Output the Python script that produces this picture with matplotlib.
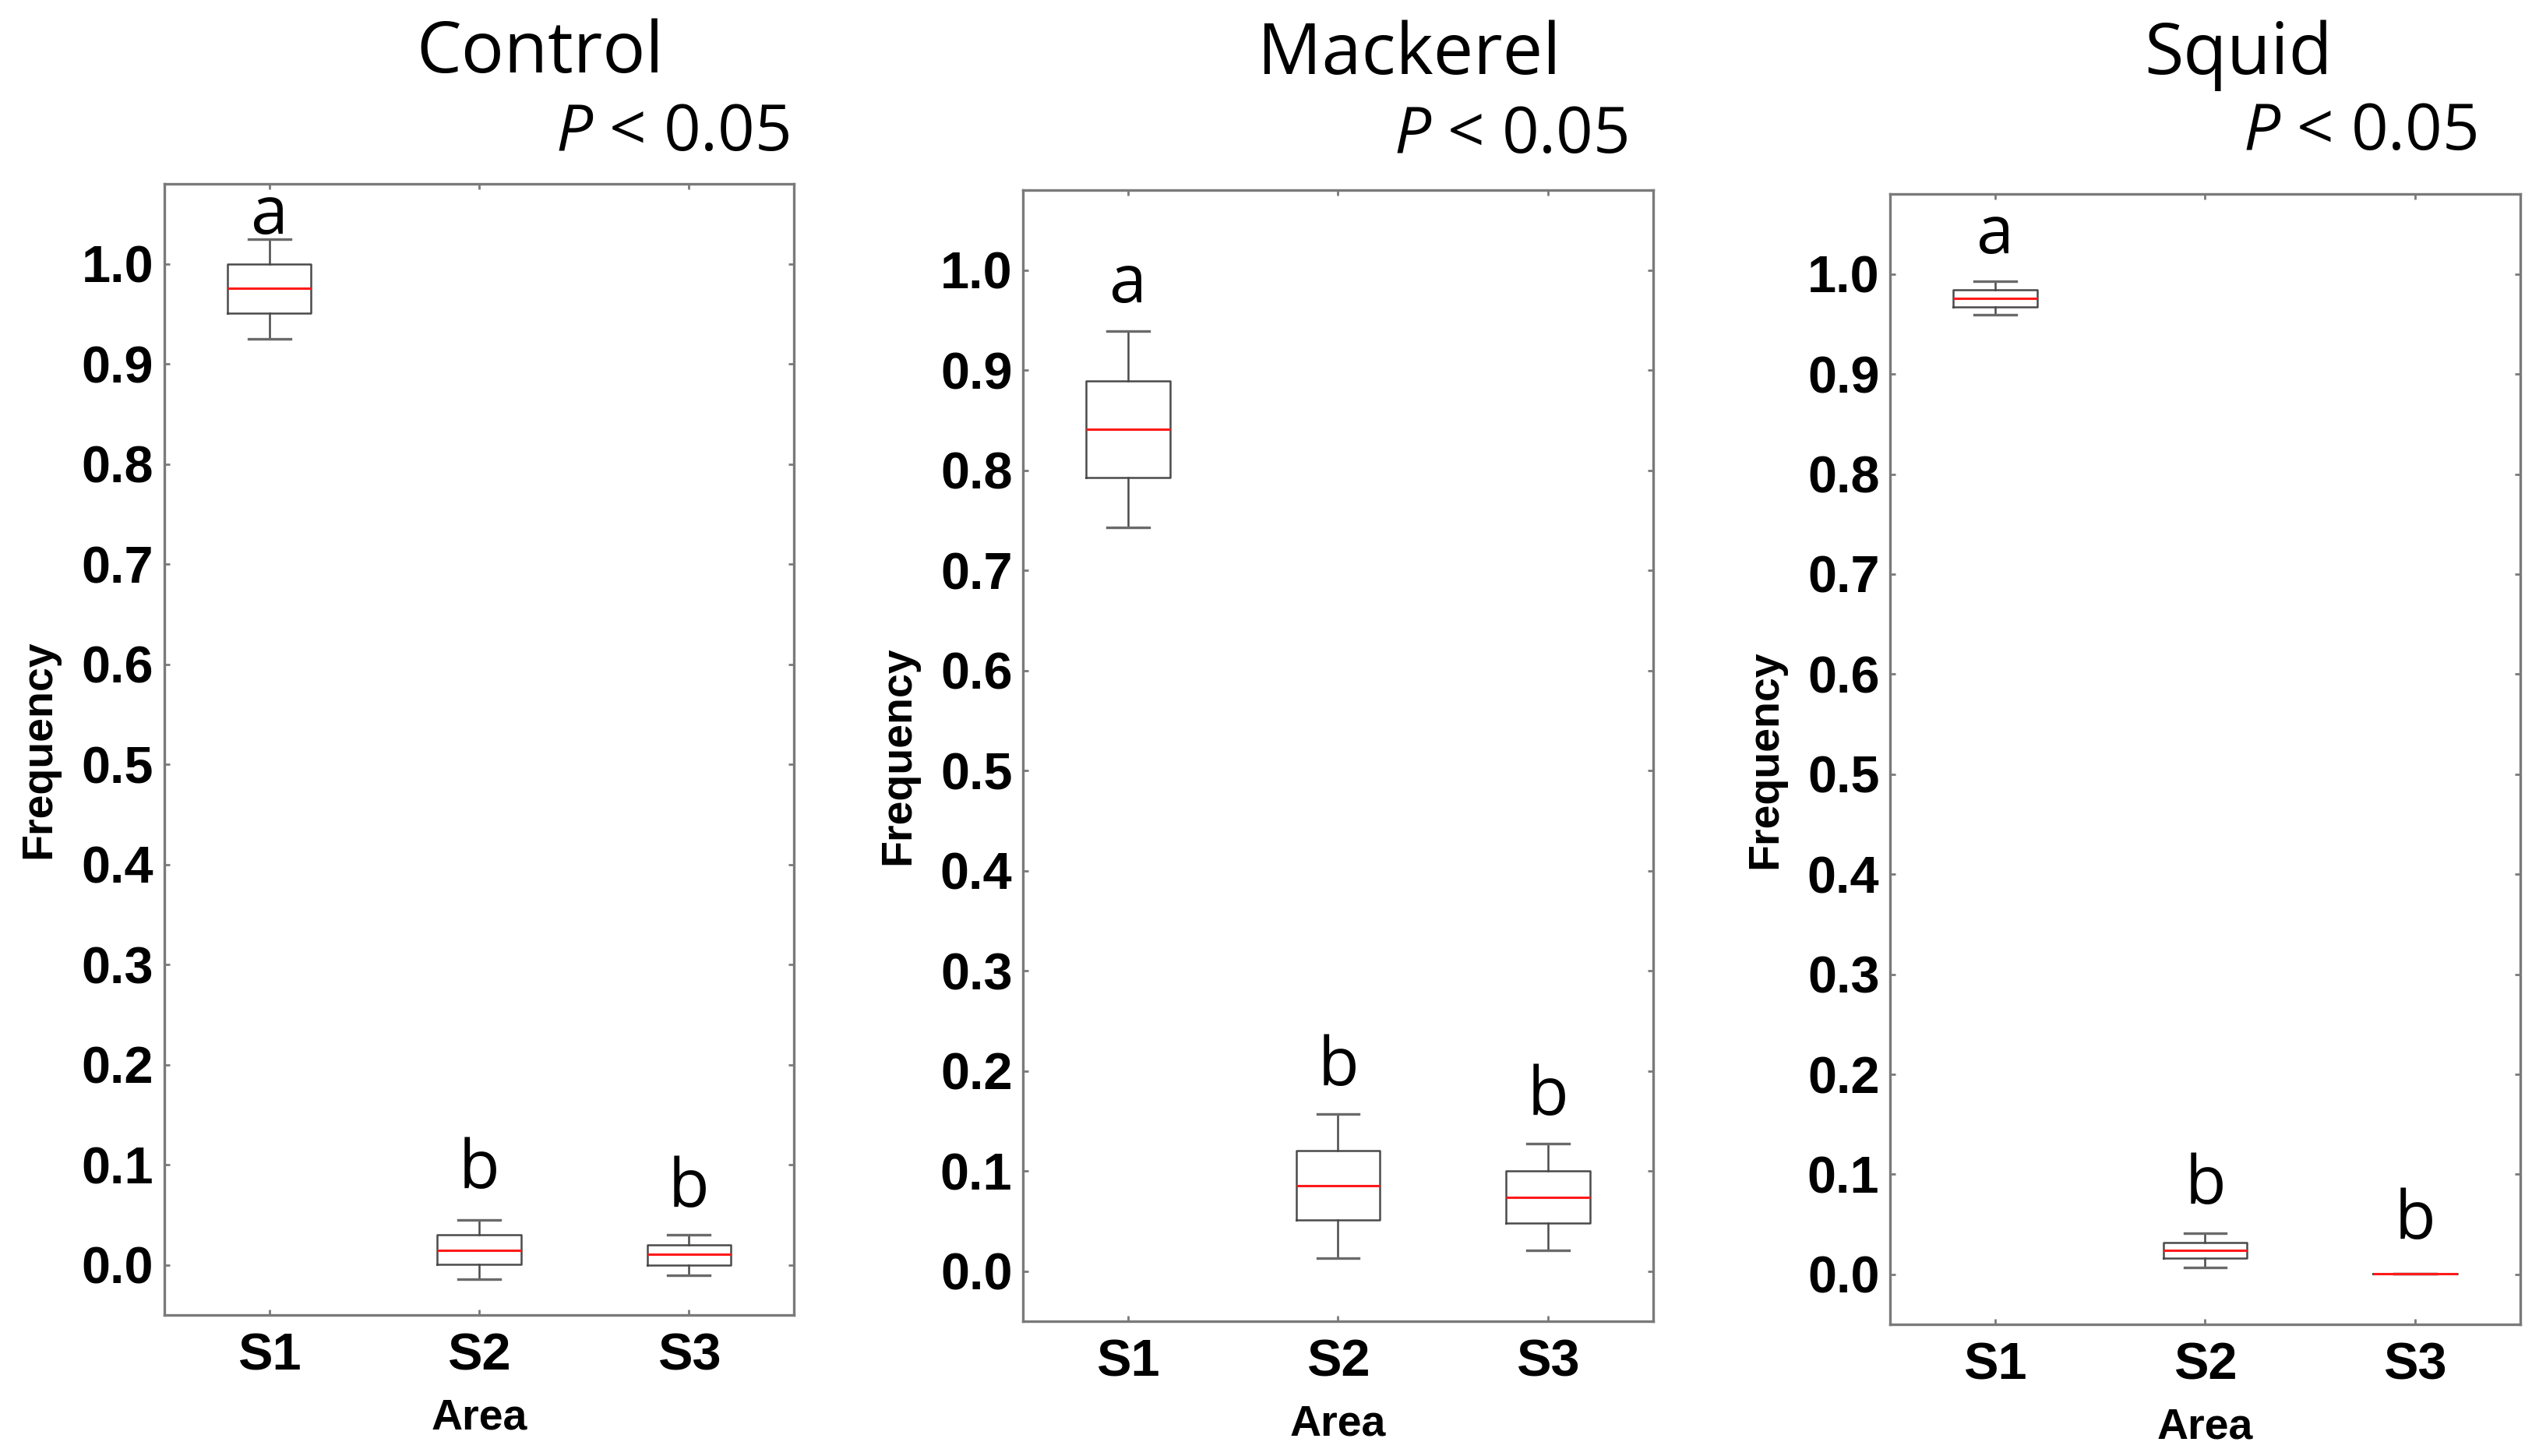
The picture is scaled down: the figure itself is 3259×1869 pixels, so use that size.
import numpy as np
import matplotlib.pyplot as plt

# values (frequency per area)
areas = ["S1", "S2", "S3"]
panels = ["Control", "Mackerel", "Squid"]

control_whislo = [0.925, -0.014, -0.010]
control_q1 = [0.951, 0.001, 0.000]
control_med = [0.976, 0.015, 0.011]
control_q3 = [1.000, 0.030, 0.020]
control_whishi = [1.025, 0.045, 0.030]

mackerel_whislo = [0.743, 0.013, 0.021]
mackerel_q1 = [0.793, 0.051, 0.048]
mackerel_med = [0.841, 0.085, 0.074]
mackerel_q3 = [0.889, 0.120, 0.100]
mackerel_whishi = [0.939, 0.157, 0.127]

squid_whislo = [0.959, 0.007, 0.001]
squid_q1 = [0.967, 0.016, 0.001]
squid_med = [0.976, 0.024, 0.001]
squid_q3 = [0.984, 0.032, 0.001]
squid_whishi = [0.993, 0.041, 0.001]

letters = ["a", "b", "b"]
control_letter_y = [1.030, 0.077, 0.058]
mackerel_letter_y = [0.968, 0.186, 0.156]
squid_letter_y = [1.021, 0.071, 0.036]

p_text = "$P$ < 0.05"

data = {
    "Control": (control_whislo, control_q1, control_med, control_q3, control_whishi, control_letter_y),
    "Mackerel": (mackerel_whislo, mackerel_q1, mackerel_med, mackerel_q3, mackerel_whishi, mackerel_letter_y),
    "Squid": (squid_whislo, squid_q1, squid_med, squid_q3, squid_whishi, squid_letter_y),
}

plt.rcParams['mathtext.fontset'] = 'custom'
plt.rcParams['mathtext.it'] = 'Open Sans:italic'
plt.rcParams['mathtext.rm'] = 'Open Sans'

fig = plt.figure(figsize=(16.295, 9.345), dpi=200)

# axes rectangles [left, bottom, width, height] in figure fraction
rects = [
    [0.0647, 0.0968, 0.2480, 0.7769],
    [0.4030, 0.0926, 0.2480, 0.7769],
    [0.7445, 0.0904, 0.2480, 0.7764],
]
title_pos = [(0.2127, 0.950), (0.5550, 0.949), (0.8815, 0.949)]
p_pos = [(0.3110, 0.8967), (0.6410, 0.8951), (0.9755, 0.8973)]

tick_font = dict(family=['Liberation Sans', 'DejaVu Sans'], weight='bold', size=24)
label_font = dict(family=['Liberation Sans', 'DejaVu Sans'], weight='bold', size=20)
text_font = ['Open Sans', 'DejaVu Sans']

box_color = '#4a4a4a'
spine_color = '#7a7a7a'

for i, name in enumerate(panels):
    ax = fig.add_axes(rects[i])
    lo, q1, med, q3, hi, ly = data[name]
    stats = []
    for j, a in enumerate(areas):
        stats.append(dict(label=a, whislo=lo[j], q1=q1[j], med=med[j],
                          q3=q3[j], whishi=hi[j], fliers=[]))
    ax.bxp(stats, positions=[1, 2, 3], widths=0.4, capwidths=0.2,
           showfliers=False,
           boxprops=dict(color=box_color, linewidth=0.9),
           whiskerprops=dict(color=box_color, linewidth=0.9),
           capprops=dict(color='#6a6a6a', linewidth=1.2),
           medianprops=dict(color='#ff1a1a', linewidth=1.1))

    for j, a in enumerate(areas):
        ax.text(j + 1, ly[j], letters[j], ha='center', va='baseline',
                fontsize=31, family=text_font)

    ax.set_xlim(0.5, 3.5)
    ax.set_ylim(-0.05, 1.08)
    ax.set_yticks(np.arange(0, 1.01, 0.1))
    ax.set_yticklabels([f"{v:.1f}" for v in np.arange(0, 1.01, 0.1)], **tick_font)
    ax.set_xticks([1, 2, 3])
    ax.set_xticklabels(areas, **tick_font)
    ax.tick_params(direction='in', length=2.5, width=1.0, color=spine_color,
                   top=True, right=True)
    ax.tick_params(axis='y', pad=5)
    ax.tick_params(axis='x', pad=8)
    for s in ax.spines.values():
        s.set_color(spine_color)
        s.set_linewidth(1.2)
    ax.set_ylabel("Frequency", labelpad=10, **label_font)
    ax.set_xlabel("Area", labelpad=8, **label_font)

    fig.text(title_pos[i][0], title_pos[i][1], name, ha='center', va='baseline',
             fontsize=33, family=text_font)
    fig.text(p_pos[i][0], p_pos[i][1], p_text, ha='right', va='baseline',
             fontsize=30, family=text_font)

fig.savefig("out.png", dpi=200)
